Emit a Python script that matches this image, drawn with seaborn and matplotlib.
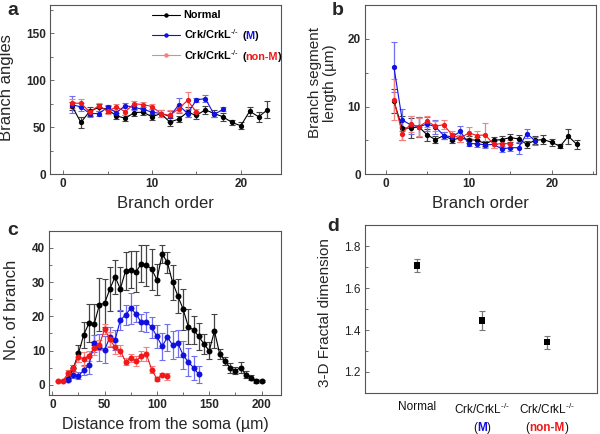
import numpy as np
import matplotlib
matplotlib.use('Agg')
import matplotlib.pyplot as plt
import pandas as pd
import seaborn as sns
from matplotlib.lines import Line2D
from matplotlib.offsetbox import TextArea, HPacker, VPacker, DrawingArea, AnchoredOffsetbox
from matplotlib.ticker import MultipleLocator
import matplotlib.transforms as mtrans

#Data

#Panel a - branch angles per branch order
order_normal = list(range(1, 24))
order_m = list(range(1, 19))
order_nonm = list(range(1, 16))
angle_normal = [72.5, 55, 67, 71, 69, 62, 59.5, 65.5, 66, 61, 64.5, 55.5, 58.5, 66, 62.5,
                68.5, 64.5, 61, 55, 51.5, 67, 61, 68.5]
angle_normal_err = [4, 6, 5, 4, 4, 3, 3, 4, 3, 3, 4, 4, 3, 5, 4, 4, 4, 4, 3, 4, 5, 5, 9]
angle_m = [74, 71.5, 64.5, 64.5, 71, 65.5, 73, 71, 69, 66, 64.5, 61.5, 73.5, 64.5, 79,
           80.5, 63.5, 69]
angle_m_err = [9, 4, 4, 3, 3, 3, 3, 3, 3, 3, 4, 6, 8, 4, 2, 4, 3, 2]
angle_nonm = [75.5, 75.5, 66, 73, 67, 71.5, 66.5, 75, 74, 72, 64.5, 62.5, 69.5, 78.5, 66]
angle_nonm_err = [5, 4, 3, 3, 3, 3, 4, 3, 3, 3, 4, 6, 3, 9, 3]

#Panel b - branch segment length per branch order
seg_normal = [10.8, 6.8, 6.8, 7.0, 5.8, 5.1, 5.7, 5.1, 5.3, 5.1, 5.0, 4.5, 5.0, 5.1, 5.4,
              5.2, 4.4, 5.0, 5.1, 4.7, 4.1, 5.6, 4.4]
seg_normal_err = [1.8, 1.8, 1.5, 1.5, 0.9, 0.5, 0.5, 0.5, 0.5, 0.5, 0.5, 0.4, 0.5, 0.5,
                  0.6, 0.6, 0.5, 0.6, 0.7, 0.5, 0.3, 1.1, 0.7]
seg_m = [15.9, 8.0, 7.3, 7.0, 7.4, 7.0, 5.7, 5.5, 6.3, 4.5, 4.5, 4.3, 4.4, 3.7, 3.9, 3.9,
         6.0, 4.9]
seg_m_err = [3.7, 1.6, 1.3, 1.5, 1.0, 1.0, 0.5, 0.6, 0.8, 0.4, 0.5, 0.4, 0.5, 0.4, 0.5,
             0.9, 0.7, 0.6]
seg_nonm = [11.0, 6.0, 7.4, 7.0, 7.8, 7.1, 7.3, 5.8, 5.3, 6.1, 5.7, 5.8, 4.4, 4.5, 4.5]
seg_nonm_err = [3.0, 1.0, 1.2, 1.3, 0.8, 0.8, 0.7, 0.6, 0.5, 0.8, 0.6, 1.8, 0.6, 0.5, 0.6]

#Panel c - number of branches vs distance from soma
dist_normal = list(range(15, 205, 5))
dist_m = list(range(15, 145, 5))
dist_nonm = list(range(5, 115, 5))
nb_normal = [1.6, 4.8, 9.2, 14.6, 18.0, 17.7, 23.4, 23.8, 28.0, 31.6, 28.0, 33.3, 33.7,
             33.0, 35.4, 35.0, 33.8, 30.7, 38.2, 35.8, 29.9, 26.0, 22.1, 17.0, 16.0, 14.1,
             11.9, 9.9, 15.7, 9.0, 7.0, 4.9, 4.1, 5.0, 2.9, 2.1, 1.1, 1.0]
nb_normal_err = [0.5, 1, 2.5, 3.8, 5.5, 6, 7.8, 7, 6.5, 5, 6.5, 5.5, 5.5, 6, 5.5, 6, 6,
                 4.5, 2.6, 3, 5, 5, 6, 5, 4, 4, 3, 2.5, 5, 1.5, 1.2, 1.5, 1, 1.5, 1, 0.8,
                 0.7, 0.3]
nb_m = [1.5, 2.9, 2.6, 4.2, 5.7, 12.1, 10.9, 10.2, 13.9, 13.1, 18.9, 20.4, 22.4, 20.7,
        18.2, 18.4, 16.8, 14.1, 11.2, 13.9, 11.6, 12.1, 8.7, 6.6, 5.0, 3.0]
nb_m_err = [0.5, 1, 1, 1.5, 2.5, 2.5, 4, 4, 3, 3, 3, 3, 4.5, 2.5, 2.5, 3, 3, 3.5, 4, 4,
            4, 4, 4, 4, 3.5, 2.5]
nb_nonm = [1.0, 1.0, 3.4, 4.8, 8.2, 7.5, 8.5, 10.7, 11.6, 16.3, 13.3, 10.9, 10.0, 6.7,
           7.8, 7.0, 8.3, 8.9, 4.4, 1.7, 2.9, 2.4]
nb_nonm_err = [0, 0, 0.8, 1, 1.5, 2, 1.5, 2, 1.5, 1.5, 2, 2, 1.5, 1, 1.2, 1.5, 1.5, 2, 1,
               0.5, 0.5, 1]

#Panel d - fractal dimension
groups = ['Normal', 'M', 'non-M']
fractal = [1.707, 1.445, 1.342]
fractal_err = [0.032, 0.047, 0.031]

#Tick labels
ticks_order = [0, 10, 20]
ticks_angle = [0, 50, 100, 150]
ticks_seg = [0, 10, 20]
ticks_dist = [0, 50, 100, 150, 200]
ticks_nb = [0, 10, 20, 30, 40]

#Style
sns.set_style('ticks')
plt.rcParams['font.family'] = ['Liberation Sans', 'DejaVu Sans']
plt.rcParams['mathtext.fontset'] = 'custom'
plt.rcParams['mathtext.rm'] = 'Liberation Sans'
plt.rcParams['mathtext.bf'] = 'Liberation Sans:bold'

BLACK = '#000000'
BLUE = '#1010e0'
RED = '#f01818'
ERR = {'k': '#444444', 'b': '#6f6ff0', 'r': '#f48080'}
SPINE = '#555555'

fig = plt.figure(figsize=(6, 4.34), dpi=100)
ax_a = fig.add_axes([0.083, 0.599, 0.385, 0.389])
ax_b = fig.add_axes([0.608, 0.599, 0.385, 0.389])
ax_c = fig.add_axes([0.082, 0.090, 0.387, 0.378])
ax_d = fig.add_axes([0.608, 0.0945, 0.387, 0.387])


def Series(ax, x, y, err, color, ecolor, ms):
    """Line with markers from seaborn plus error bars."""
    df = pd.DataFrame({'x': x, 'y': y})
    ax.errorbar(x, y, yerr=err, fmt='none', ecolor=ecolor, elinewidth=0.9,
                capsize=2, capthick=0.8, zorder=2)
    sns.lineplot(data=df, x='x', y='y', ax=ax, color=color, lw=0.8, marker='o',
                 markersize=ms, markeredgewidth=0, zorder=3)


def Frame(ax, xt=None, yt=None):
    for s in ax.spines.values():
        s.set_visible(True)
        s.set_color(SPINE)
        s.set_linewidth(0.8)
    if xt is not None:
        ax.set_xticks(xt, labels=[str(v) for v in xt], fontweight='bold', fontsize=8.5)
        step = xt[1] - xt[0]
        ax.xaxis.set_minor_locator(MultipleLocator(step / 2))
    if yt is not None:
        ax.set_yticks(yt, labels=[str(v) for v in yt], fontweight='bold', fontsize=8.5)
        step = yt[1] - yt[0]
        ax.yaxis.set_minor_locator(MultipleLocator(step / 2))
    ax.tick_params(which='both', direction='in', color=SPINE, width=0.6)
    ax.tick_params(which='major', length=3, pad=3)
    ax.tick_params(which='minor', length=2)


#Panel a
Series(ax_a, order_normal, angle_normal, angle_normal_err, BLACK, ERR['k'], 3.8)
Series(ax_a, order_m, angle_m, angle_m_err, BLUE, ERR['b'], 3.8)
Series(ax_a, order_nonm, angle_nonm, angle_nonm_err, RED, ERR['r'], 3.8)
Frame(ax_a, ticks_order, ticks_angle)
ax_a.set_xlim(-1.5, 24.5)
ax_a.set_ylim(0, 180)
ax_a.set_xlabel('Branch order', fontsize=12)
ax_a.set_ylabel('Branch angles', fontsize=12)
ax_a.xaxis.set_label_coords(0.5, -0.13)
ax_a.yaxis.set_label_coords(-0.155, 0.51)

#Panel b
Series(ax_b, order_normal, seg_normal, seg_normal_err, BLACK, ERR['k'], 3.8)
Series(ax_b, order_m, seg_m, seg_m_err, BLUE, ERR['b'], 3.8)
Series(ax_b, order_nonm, seg_nonm, seg_nonm_err, RED, ERR['r'], 3.8)
Frame(ax_b, ticks_order, ticks_seg)
ax_b.set_xlim(-2.5, 25.3)
ax_b.set_ylim(0, 25)
ax_b.set_xlabel('Branch order', fontsize=12)
ax_b.set_ylabel('Branch segment\nlength (µm)', fontsize=11, linespacing=1.1)
ax_b.xaxis.set_label_coords(0.5, -0.13)
ax_b.yaxis.set_label_coords(-0.12, 0.54)

#Panel c
Series(ax_c, dist_normal, nb_normal, nb_normal_err, BLACK, ERR['k'], 4.3)
Series(ax_c, dist_m, nb_m, nb_m_err, BLUE, ERR['b'], 4.3)
Series(ax_c, dist_nonm, nb_nonm, nb_nonm_err, RED, ERR['r'], 4.3)
Frame(ax_c, ticks_dist, ticks_nb)
ax_c.set_xlim(-3, 219)
ax_c.set_ylim(-3, 45)
ax_c.set_xlabel('Distance from the soma (µm)', fontsize=11.5)
ax_c.set_ylabel('No. of branch', fontsize=12)
ax_c.xaxis.set_label_coords(0.5, -0.135)
ax_c.yaxis.set_label_coords(-0.13, 0.52)

#Panel d
df_d = pd.DataFrame({'group': groups, 'value': fractal})
pos = np.arange(len(groups))
ax_d.errorbar(pos, fractal, yerr=fractal_err, fmt='none', ecolor='#777777',
              elinewidth=0.9, capsize=2, capthick=0.8, zorder=2)
sns.scatterplot(x=pos, y=df_d['value'], ax=ax_d, marker='s', s=22, color='black',
                edgecolor='none', zorder=3)
Frame(ax_d)
ax_d.set_xlim(-0.8, 2.77)
ax_d.set_ylim(1.1, 1.9)
ax_d.set_xticks([])
ax_d.yaxis.set_major_locator(MultipleLocator(0.2))
ax_d.yaxis.set_minor_locator(MultipleLocator(0.1))
ax_d.yaxis.set_major_formatter(matplotlib.ticker.FormatStrFormatter('%.1f'))
ax_d.set_xlabel('')
ax_d.set_ylabel('3-D Fractal dimension', fontsize=11)
ax_d.yaxis.set_label_coords(-0.14, 0.48)
ax_d.tick_params(axis='y', labelsize=8.5, labelcolor='#222222')

SUP = r'$^{\text{-/-}}$'


def Group(name, col, props, name_weight):
    """'(name)' with the name in its group colour."""
    return HPacker(children=[TextArea('(', textprops=props),
                             TextArea(name, textprops=dict(props, color=col,
                                                           fontweight=name_weight)),
                             TextArea(')', textprops=props)],
                   align='baseline', sep=0, pad=0)


#Legend in panel a, built so that the group name can be coloured
def Handle(color):
    da = DrawingArea(20, 8, 0, 0)
    da.add_artist(Line2D([0, 20], [4, 4], color=color, lw=0.8))
    da.add_artist(Line2D([10], [4], marker='o', ms=3.2, color=color, mew=0))
    return da

bold = dict(fontweight='bold', fontsize=7.8, color='black')
rows = []
rows.append(HPacker(children=[Handle(BLACK), TextArea('Normal', textprops=bold)],
                    align='center', sep=3, pad=0))
for name, col, hcol in [('M', BLUE, BLUE), ('non-M', RED, '#f48080')]:
    txt = HPacker(children=[TextArea('Crk/CrkL' + SUP, textprops=bold),
                            Group(name, col, bold, 'bold')],
                  align='baseline', sep=2.5, pad=0)
    rows.append(HPacker(children=[Handle(hcol), txt], align='center', sep=3, pad=0))
leg = AnchoredOffsetbox(loc='upper left', child=VPacker(children=rows, align='left',
                        sep=5, pad=0), frameon=False, pad=0, borderpad=0,
                        bbox_to_anchor=(0.253, 0.978), bbox_transform=fig.transFigure)
ax_a.add_artist(leg)

#Category labels under panel d
reg = dict(fontsize=8.5, color='#111111')
trans_d = mtrans.blended_transform_factory(ax_d.transData, ax_d.transAxes)
labels_d = [[TextArea('Normal', textprops=reg)]]
for name, col in [('M', BLUE), ('non-M', RED)]:
    labels_d.append([TextArea('Crk/CrkL' + SUP, textprops=reg),
                     Group(name, col, reg, 'bold')])
for p, lines in zip(pos, labels_d):
    box = AnchoredOffsetbox(loc='upper center', child=VPacker(children=lines,
                            align='center', sep=4, pad=0), frameon=False, pad=0,
                            borderpad=0, bbox_to_anchor=(p, -0.05), bbox_transform=trans_d)
    ax_d.add_artist(box)

#Panel letters
for x, y, s in [(0.012, 0.995, 'a'), (0.553, 0.995, 'b'), (0.012, 0.488, 'c'),
                (0.545, 0.497, 'd')]:
    fig.text(x, y, s, fontsize=14, fontweight='bold', va='top', ha='left')

fig.savefig('out.png', dpi=100)
